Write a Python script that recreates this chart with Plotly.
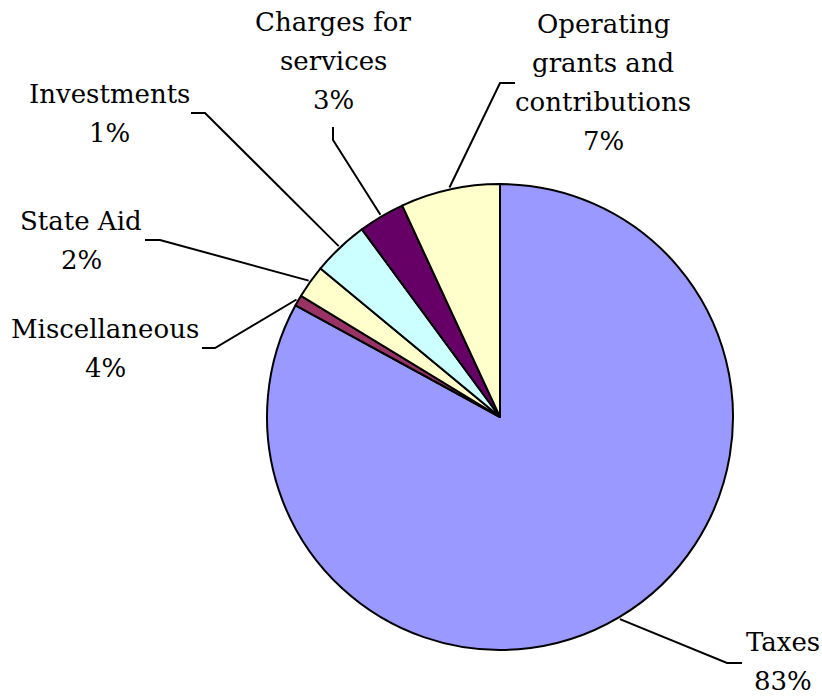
import math
import plotly.graph_objects as go

# Data (slice order clockwise from 12 o'clock)
slice_names = ["Taxes", "Miscellaneous", "State Aid", "Investments",
               "Charges for services", "Operating grants and contributions"]
slice_values = [83.0, 0.75, 2.3, 3.9, 3.2, 6.9]
label_lines = [["Taxes", "83%"], ["Miscellaneous", "4%"], ["State Aid", "2%"],
               ["Investments", "1%"], ["Charges for", "services", "3%"],
               ["Operating", "grants and", "contributions", "7%"]]
slice_colors = ["#9999FF", "#993366", "#FFFFCC", "#CCFFFF", "#660066", "#FFFFCC"]

# Layout (pixels)
W, H = 822, 698
CX, CY, R = 500, 417, 233
LINE_H = 39
label_pos = [(783, 661), (105, 348), (81, 240), (109, 113), (333, 61), (603, 82)]
elbows = [(742, 663), (202, 348), (145, 240), (191, 113), (333, 127), (515, 83)]
knees = [(727, 663), (215, 348), (160, 240), (205, 113), (333, 140), (500, 83)]

FONT = "DejaVu Serif"

fig = go.Figure()
fig.add_trace(go.Pie(
    labels=slice_names, values=slice_values, sort=False, direction="clockwise",
    rotation=0, textinfo="none", hoverinfo="label+percent",
    marker=dict(colors=slice_colors, line=dict(color="black", width=2)),
    domain=dict(x=[(CX - R) / W, (CX + R) / W], y=[(H - CY - R) / H, (H - CY + R) / H]),
    showlegend=False,
))

total = sum(slice_values)
cum = 0.0
shapes = []
annotations = []
for i, v in enumerate(slice_values):
    mid = (cum + v / 2) / total * 2 * math.pi
    cum += v
    px = CX + (R + 2) * math.sin(mid)
    py = CY - (R + 2) * math.cos(mid)
    kx, ky = knees[i]
    ex, ey = elbows[i]
    shapes.append(dict(type="path", xref="x", yref="y",
                       path=f"M {ex},{ey} L {kx},{ky} L {px:.1f},{py:.1f}",
                       line=dict(color="black", width=2)))
    lx, ly = label_pos[i]
    n = len(label_lines[i])
    for j, line in enumerate(label_lines[i]):
        annotations.append(dict(x=lx, y=ly + (j - (n - 1) / 2) * LINE_H,
                                xref="x", yref="y", text=line,
                                showarrow=False, xanchor="center", yanchor="middle",
                                align="center",
                                font=dict(family=FONT, size=26, color="black")))

fig.update_layout(
    width=W, height=H, margin=dict(l=0, r=0, t=0, b=0),
    font=dict(family=FONT),
    paper_bgcolor="white", plot_bgcolor="rgba(0,0,0,0)",
    xaxis=dict(range=[0, W], visible=False, domain=[0, 1], fixedrange=True),
    yaxis=dict(range=[H, 0], visible=False, domain=[0, 1], fixedrange=True),
    shapes=shapes, annotations=annotations,
)
fig.write_html("out.html", config={"displayModeBar": False},
               post_script="document.body.style.margin='0';document.body.style.overflow='hidden';")
